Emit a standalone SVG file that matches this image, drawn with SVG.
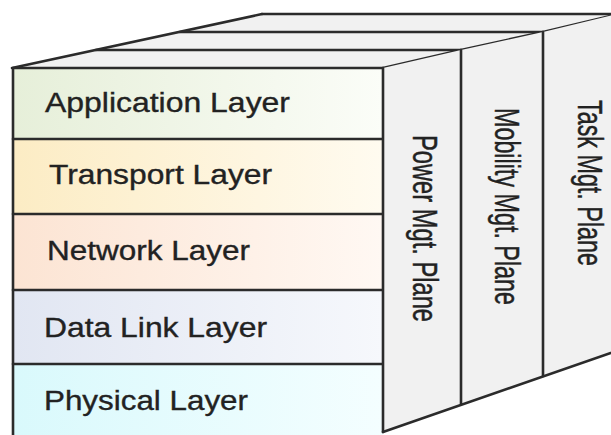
<svg xmlns="http://www.w3.org/2000/svg" width="611" height="435" viewBox="0 0 611 435">
<style>
.edge{fill:none;stroke:#2b2b2b;stroke-width:2.6;stroke-linejoin:round;stroke-linecap:round}
.face{fill:#f1f1f1;stroke:none}
.lbl{font-family:"Liberation Sans",Arial,sans-serif;font-size:27.5px;fill:#222;stroke:#222;stroke-width:0.35}
.pl{font-family:"Liberation Sans",Arial,sans-serif;font-size:23.5px;fill:#222;stroke:#222;stroke-width:0.3}
</style>
<defs>
<linearGradient id="gApp" x1="0" y1="0" x2="1" y2="0"><stop offset="0" stop-color="#e6efd9"/><stop offset="1" stop-color="#fbfdf8"/></linearGradient>
<linearGradient id="gTra" x1="0" y1="0" x2="1" y2="0"><stop offset="0" stop-color="#fcecc4"/><stop offset="1" stop-color="#fffbf0"/></linearGradient>
<linearGradient id="gNet" x1="0" y1="0" x2="1" y2="0"><stop offset="0" stop-color="#fce4d3"/><stop offset="1" stop-color="#fff8f3"/></linearGradient>
<linearGradient id="gDat" x1="0" y1="0" x2="1" y2="0"><stop offset="0" stop-color="#e1e6f2"/><stop offset="1" stop-color="#f6f8fc"/></linearGradient>
<linearGradient id="gPhy" x1="0" y1="0" x2="1" y2="0"><stop offset="0" stop-color="#d9f9fc"/><stop offset="1" stop-color="#f4feff"/></linearGradient>
</defs>
<rect width="611" height="435" fill="#ffffff"/>
<g id="top-face">
<polygon class="face" points="12,68 383,68 461,50 543,32 621,13 621,14 262,14"/>
<line class="edge" x1="96" y1="50" x2="461" y2="50"/>
<line class="edge" x1="180" y1="32" x2="543" y2="32"/>
<line class="edge" x1="262" y1="14" x2="625" y2="14"/>
<line class="edge" x1="12" y1="68" x2="262" y2="14"/>
<polyline class="edge" points="383,68 461,50 543,32 623,13"/>
</g>
<g id="application-layer">
<rect x="12" y="68" width="371" height="71" fill="url(#gApp)"/>
<text class="lbl" x="45" y="112" textLength="245" lengthAdjust="spacingAndGlyphs">Application Layer</text>
</g>
<g id="transport-layer">
<rect x="12" y="139" width="371" height="75" fill="url(#gTra)"/>
<text class="lbl" x="49" y="184" textLength="223" lengthAdjust="spacingAndGlyphs">Transport Layer</text>
</g>
<g id="network-layer">
<rect x="12" y="214" width="371" height="76" fill="url(#gNet)"/>
<text class="lbl" x="47" y="260" textLength="203" lengthAdjust="spacingAndGlyphs">Network Layer</text>
</g>
<g id="data-link-layer">
<rect x="12" y="290" width="371" height="74" fill="url(#gDat)"/>
<text class="lbl" x="44" y="337" textLength="223" lengthAdjust="spacingAndGlyphs">Data Link Layer</text>
</g>
<g id="physical-layer">
<rect x="12" y="364" width="371" height="76" fill="url(#gPhy)"/>
<text class="lbl" x="44" y="410" textLength="204" lengthAdjust="spacingAndGlyphs">Physical Layer</text>
</g>
<g id="front-edges">
<polyline class="edge" points="13,440 13,68 383,68"/>
<line class="edge" x1="13" y1="139" x2="383" y2="139"/>
<line class="edge" x1="13" y1="214" x2="383" y2="214"/>
<line class="edge" x1="13" y1="290" x2="383" y2="290"/>
<line class="edge" x1="13" y1="364" x2="383" y2="364"/>
</g>
<g id="power-mgt-plane">
<polygon class="face" points="383,68 461,50 461,404 383,432"/>
<text class="pl" transform="translate(413,135) rotate(90) scale(1,1.5)" x="0" y="0" textLength="187" lengthAdjust="spacingAndGlyphs">Power Mgt. Plane</text>
</g>
<g id="mobility-mgt-plane">
<polygon class="face" points="461,50 543,32 543,376 461,404"/>
<text class="pl" transform="translate(495,108) rotate(90) scale(1,1.5)" x="0" y="0" textLength="197" lengthAdjust="spacingAndGlyphs">Mobility Mgt. Plane</text>
</g>
<g id="task-mgt-plane">
<polygon class="face" points="543,32 621,13 621,349 543,376"/>
<text class="pl" transform="translate(578,100) rotate(90) scale(1,1.5)" x="0" y="0" textLength="166" lengthAdjust="spacingAndGlyphs">Task Mgt. Plane</text>
</g>
<g id="side-edges">
<line class="edge" x1="383" y1="68" x2="383" y2="432"/>
<line class="edge" x1="461" y1="50" x2="461" y2="404"/>
<line class="edge" x1="543" y1="32" x2="543" y2="376"/>
<line class="edge" x1="383" y1="432" x2="625" y2="348"/>
</g>
</svg>
